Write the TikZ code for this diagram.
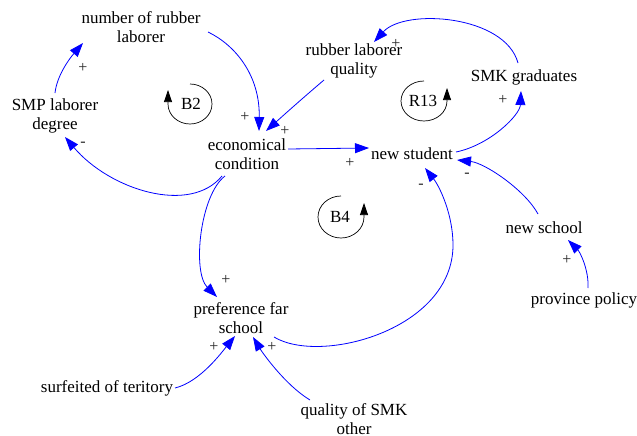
\documentclass[tikz,border=0pt]{standalone}
\usepackage{fontspec}
\setmainfont{Liberation Serif}
\usetikzlibrary{arrows.meta}
\tikzset{
  var/.style={align=center, inner sep=1pt, font=\fontsize{17}{19.5}\selectfont},
  sign/.style={inner sep=0pt, text=black!85, font=\fontsize{16}{18}\selectfont},
  link/.style={draw=blue, line width=0.8pt, -{Triangle[length=14pt,width=10pt]}},
  loopar/.style={draw=black, line width=0.7pt, -{Triangle[length=12pt,width=8pt]}},
}
\begin{document}
\begin{tikzpicture}[x=1pt,y=-1pt]
\useasboundingbox (0,0) rectangle (637,436);
% variables
\node[var] (nrl) at (141,27) {number of rubber\\laborer};
\node[var] (smp) at (55,116) {SMP laborer\\degree};
\node[var] (econ) at (247,154) {economical\\condition};
\node[var] (rlq) at (354,61) {rubber laborer\\quality};
\node[var] (smk) at (524,77) {SMK graduates};
\node[var] (ns) at (412,154) {new student};
\node[var] (nsch) at (544,228) {new school};
\node[var] (pp) at (584,300) {province policy};
\node[var] (pfs) at (241,318) {preference far\\school};
\node[var] (sot) at (107,388) {surfeited of teritory};
\node[var] (qsmk) at (354,419) {quality of SMK\\other};
% loop markers
\node[var] (b2) at (191,104) {B2};
\node[var] (r13) at (423,101) {R13};
\node[var] (b4) at (340,217) {B4};
\draw[loopar] ([xshift=-1pt,yshift=20pt]b2.center) arc[start angle=90,end angle=-180,x radius=22pt,y radius=20pt] -- ++(0,14pt);
\draw[loopar] ([xshift=1pt,yshift=20pt]r13.center) arc[start angle=90,end angle=360,x radius=23pt,y radius=20pt] -- ++(0,13pt);
\draw[loopar] ([xshift=1pt,yshift=21pt]b4.center) arc[start angle=90,end angle=360,x radius=23pt,y radius=21pt] -- ++(0,14pt);
% connectors
\draw[link] ([xshift=67pt,yshift=-5pt]nrl.center) .. controls +(27,13) and +(1,-56) .. ([xshift=12pt,yshift=23pt]econ.center);
\draw[link] ([xshift=-30pt,yshift=-19pt]rlq.center) .. controls +(-20,17) and +(20,-18) .. ([xshift=19pt,yshift=23pt]econ.center);
\draw[link] ([xshift=-6pt,yshift=14pt]smk.center) .. controls +(-13,-48) and +(31,-34) .. ([xshift=20pt,yshift=19pt]rlq.center);
\draw[link] ([xshift=41pt,yshift=5pt]econ.center) -- ([xshift=-43pt,yshift=6pt]ns.center);
\draw[link] ([xshift=44pt,yshift=2pt]ns.center) .. controls +(34,-7) and +(-1,24) .. ([xshift=-3pt,yshift=-14pt]smk.center);
\draw[link] ([xshift=-25pt,yshift=-22pt]econ.center) .. controls +(-32,39) and +(45,53) .. ([xshift=10pt,yshift=-21pt]smp.center);
\draw[link] ([yshift=23pt]smp.center) .. controls +(2,-18) and +(-13,15) .. ([xshift=-58pt,yshift=-16pt]nrl.center);
\draw[link] ([xshift=-22pt,yshift=-22pt]econ.center) .. controls +(-25,19) and +(-25,-25) .. ([xshift=-24pt,yshift=21pt]pfs.center);
\draw[link] ([xshift=33pt,yshift=-19pt]pfs.center) .. controls (320,365) and (453,330) .. (453,245) .. controls (453,215) and (440,187) .. ([xshift=13pt,yshift=-14pt]ns.center);
\draw[link] ([xshift=-6pt,yshift=14pt]nsch.center) .. controls +(-13,-24) and +(28,3) .. ([xshift=45pt,yshift=-6pt]ns.center);
\draw[link] ([xshift=4pt,yshift=12pt]pp.center) .. controls +(1,-18) and +(12,12) .. ([xshift=24pt,yshift=-12pt]nsch.center);
\draw[link] ([xshift=68pt]sot.center) .. controls +(25,-6) and +(-13,16) .. ([xshift=-6pt,yshift=-18pt]pfs.center);
\draw[link] ([xshift=-44pt,yshift=19pt]qsmk.center) .. controls +(-25,-15) and +(9,15) .. ([xshift=12pt,yshift=-19pt]pfs.center);
% polarity signs
\node[sign] (s1) at (245,117) {+};
\node[sign] (s2) at (285,131) {+};
\node[sign] (s3) at (396,44) {+};
\node[sign] (s4) at (350,163) {+};
\node[sign] (s5) at (503,100) {+};
\node[sign] (s6) at (83,144) {-};
\node[sign] (s7) at (83,68) {+};
\node[sign] (s8) at (226,280) {+};
\node[sign] (s9) at (421,186) {-};
\node[sign] (s10) at (467,175) {-};
\node[sign] (s11) at (567,260) {+};
\node[sign] (s12) at (214,347) {+};
\node[sign] (s13) at (272,347) {+};
\end{tikzpicture}
\end{document}
